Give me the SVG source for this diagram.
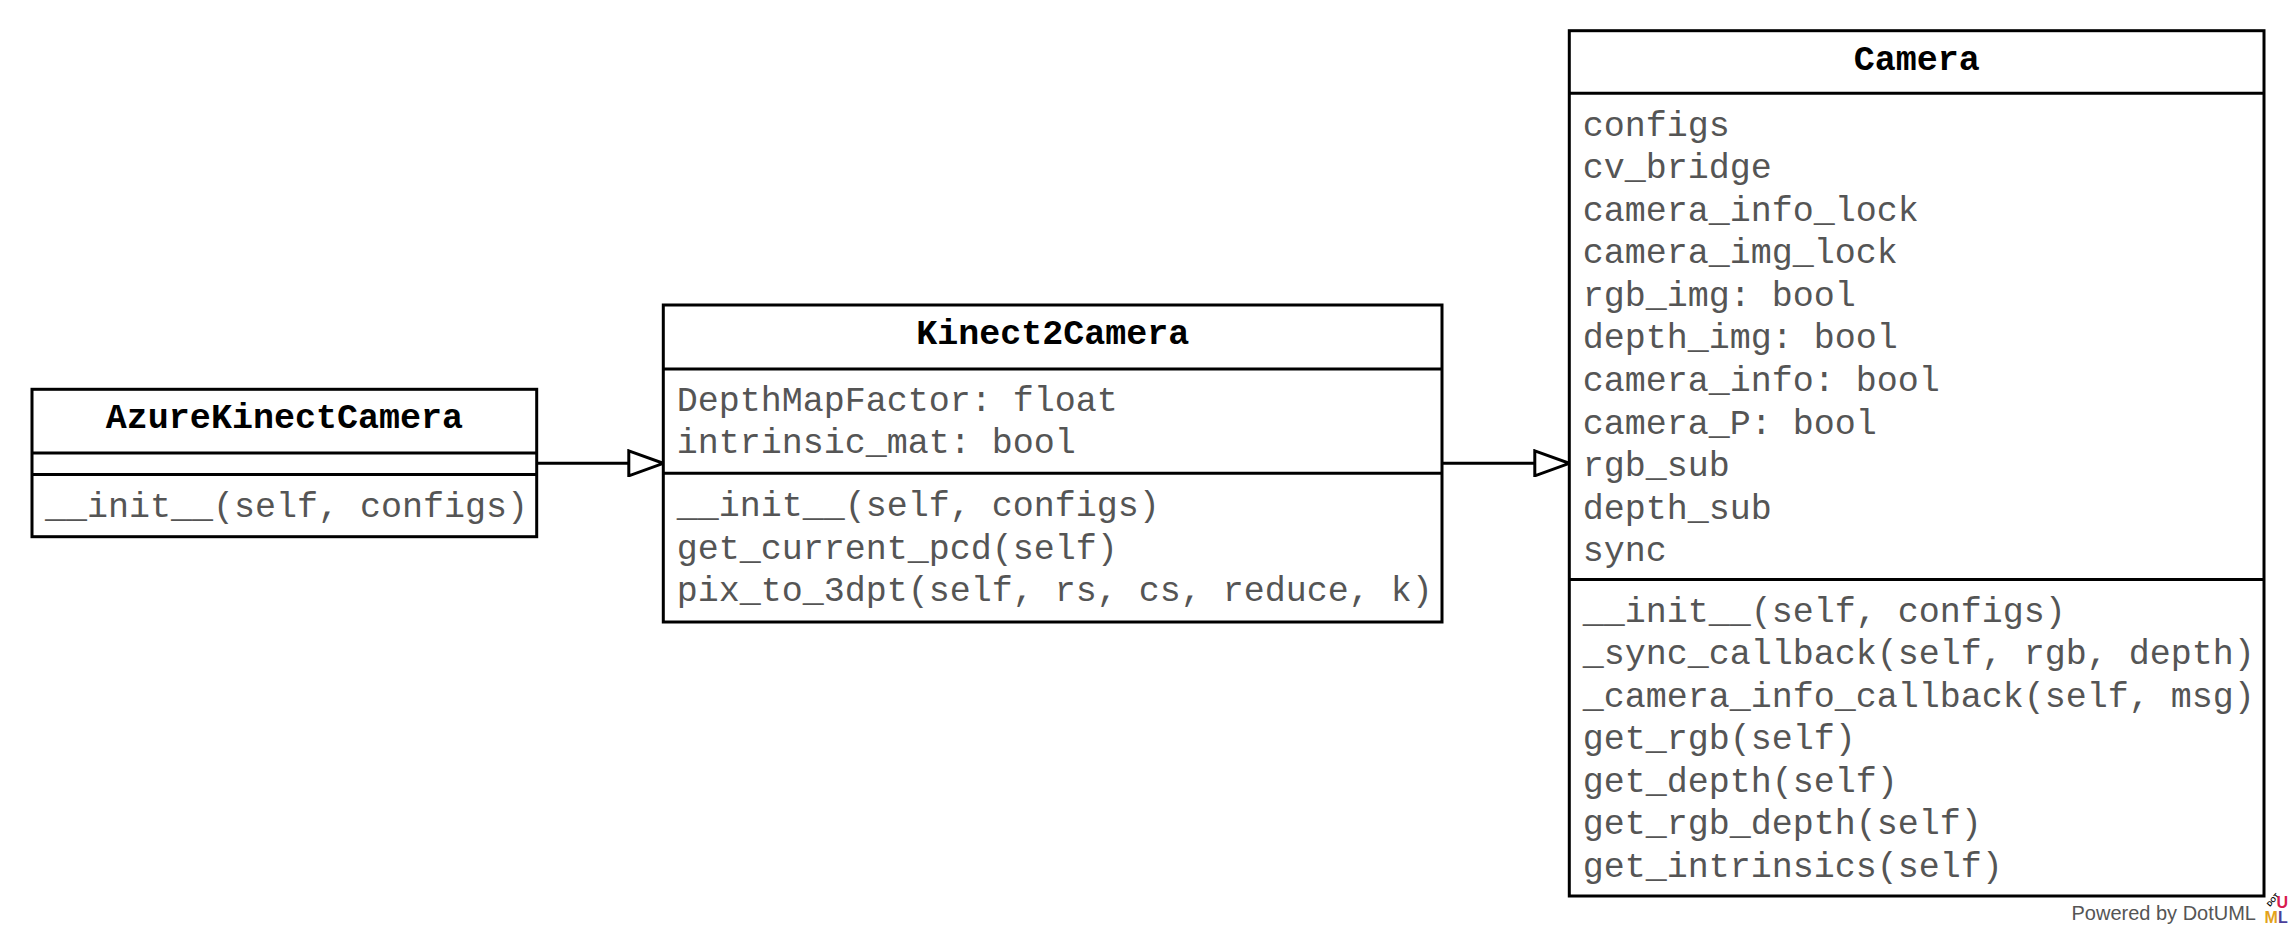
<svg xmlns="http://www.w3.org/2000/svg" width="2293" height="928" viewBox="0 0 2293 928">
<defs>
<style>
.box{fill:#fff;stroke:#000;stroke-width:3}
.sep{stroke:#000;stroke-width:3}
.title{font-family:"Liberation Mono","Courier New",monospace;font-size:35px;font-weight:bold;fill:#000;text-anchor:middle}
.row{font-family:"Liberation Mono","Courier New",monospace;font-size:35px;fill:#555}
.edge{stroke:#000;stroke-width:3;fill:none}
.foot{font-family:"Liberation Sans",Arial,sans-serif;font-size:20px;fill:#555;text-anchor:end}
.logo{font-family:"Liberation Sans",Arial,sans-serif;font-weight:bold}
</style>
<marker id="inherit" viewBox="0 0 38 28" refX="36" refY="14" markerWidth="38" markerHeight="28" markerUnits="userSpaceOnUse" orient="auto">
<path d="M1.5,1.5 L36,14 L1.5,26.5 Z" fill="#fff" stroke="#000" stroke-width="3"/>
</marker>
</defs>
<rect width="2293" height="928" fill="#fff"/>

<g id="connectors">
<path class="edge" d="M536.7,463.3 L663.3,463.3" marker-end="url(#inherit)"/>
<path class="edge" d="M1442,463.3 L1569.3,463.3" marker-end="url(#inherit)"/>
</g>

<g id="AzureKinectCamera">
<rect class="box" x="32" y="389.3" width="504.7" height="147.4"/>
<line class="sep" x1="32" y1="453" x2="536.7" y2="453"/>
<line class="sep" x1="32" y1="474.5" x2="536.7" y2="474.5"/>
<text class="title" x="284.4" y="428.3">AzureKinectCamera</text>
<text class="row" x="45" y="517.3">__init__(self, configs)</text>
</g>

<g id="Kinect2Camera">
<rect class="box" x="663.3" y="305" width="778.7" height="317"/>
<line class="sep" x1="663.3" y1="369" x2="1442" y2="369"/>
<line class="sep" x1="663.3" y1="473.3" x2="1442" y2="473.3"/>
<text class="title" x="1052.7" y="344">Kinect2Camera</text>
<text class="row" x="676.7" y="410.7">DepthMapFactor: float</text>
<text class="row" x="676.7" y="453.3">intrinsic_mat: bool</text>
<text class="row" x="676.7" y="516">__init__(self, configs)</text>
<text class="row" x="676.7" y="558.6">get_current_pcd(self)</text>
<text class="row" x="676.7" y="601.2">pix_to_3dpt(self, rs, cs, reduce, k)</text>
</g>

<g id="Camera">
<rect class="box" x="1569.3" y="30.7" width="694.7" height="865.3"/>
<line class="sep" x1="1569.3" y1="93.3" x2="2264" y2="93.3"/>
<line class="sep" x1="1569.3" y1="579.5" x2="2264" y2="579.5"/>
<text class="title" x="1916.7" y="69.5">Camera</text>
<text class="row" x="1582.7" y="135.5">configs</text>
<text class="row" x="1582.7" y="178">cv_bridge</text>
<text class="row" x="1582.7" y="220.6">camera_info_lock</text>
<text class="row" x="1582.7" y="263.2">camera_img_lock</text>
<text class="row" x="1582.7" y="305.8">rgb_img: bool</text>
<text class="row" x="1582.7" y="348.3">depth_img: bool</text>
<text class="row" x="1582.7" y="390.9">camera_info: bool</text>
<text class="row" x="1582.7" y="433.5">camera_P: bool</text>
<text class="row" x="1582.7" y="476">rgb_sub</text>
<text class="row" x="1582.7" y="518.6">depth_sub</text>
<text class="row" x="1582.7" y="561.2">sync</text>
<text class="row" x="1582.7" y="621.5">__init__(self, configs)</text>
<text class="row" x="1582.7" y="664">_sync_callback(self, rgb, depth)</text>
<text class="row" x="1582.7" y="706.6">_camera_info_callback(self, msg)</text>
<text class="row" x="1582.7" y="749.2">get_rgb(self)</text>
<text class="row" x="1582.7" y="791.7">get_depth(self)</text>
<text class="row" x="1582.7" y="834.3">get_rgb_depth(self)</text>
<text class="row" x="1582.7" y="876.9">get_intrinsics(self)</text>
</g>

<g id="footer">
<text class="foot" x="2256" y="920">Powered by DotUML</text>
<text class="logo" x="2270" y="907" font-size="7" fill="#000" transform="rotate(-50 2270 907)">DOT</text>
<text class="logo" x="2276.5" y="908" font-size="16" fill="#d81b4f">U</text>
<text class="logo" x="2264.5" y="923" font-size="16" fill="#e3a21a">M</text>
<text class="logo" x="2278" y="923" font-size="16" fill="#4b3f9b">L</text>
</g>
</svg>
